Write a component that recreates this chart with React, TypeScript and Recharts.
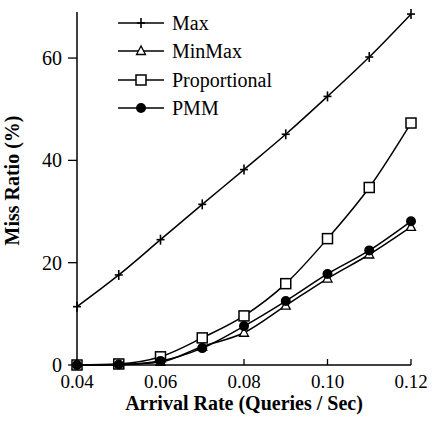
import React from "react";
import { LineChart, Line, XAxis, YAxis } from "recharts";

const rates = [0.04, 0.05, 0.06, 0.07, 0.08, 0.09, 0.1, 0.11, 0.12];
const maxMiss = [11.4, 17.6, 24.5, 31.4, 38.2, 45.1, 52.5, 60.2, 68.6];
const minMaxMiss = [0, 0.1, 0.6, 3.6, 6.3, 11.6, 16.9, 21.6, 27.0];
const proportionalMiss = [0, 0.2, 1.6, 5.3, 9.6, 15.9, 24.7, 34.7, 47.3];
const pmmMiss = [0, 0.1, 0.8, 3.3, 7.6, 12.5, 17.8, 22.4, 28.1];

const xTicks = [0.04, 0.06, 0.08, 0.1, 0.12];
const yTicks = [0, 20, 40, 60];

const FONT =
  "'Liberation Serif', 'Times New Roman', Tinos, 'Nimbus Roman', 'DejaVu Serif', 'Noto Serif', FreeSerif, serif";

type Shape = "plus" | "triangle" | "square" | "circle";

const series: { key: string; name: string; shape: Shape }[] = [
  { key: "max", name: "Max", shape: "plus" },
  { key: "minmax", name: "MinMax", shape: "triangle" },
  { key: "proportional", name: "Proportional", shape: "square" },
  { key: "pmm", name: "PMM", shape: "circle" },
];

const data = rates.map((rate, i) => ({
  rate,
  max: maxMiss[i],
  minmax: minMaxMiss[i],
  proportional: proportionalMiss[i],
  pmm: pmmMiss[i],
}));

const Marker = ({ cx, cy, shape }: { cx: number; cy: number; shape: Shape }) => {
  switch (shape) {
    case "plus":
      return (
        <g stroke="#000" strokeWidth={1.6}>
          <line x1={cx - 4} x2={cx + 4} y1={cy} y2={cy} />
          <line x1={cx} x2={cx} y1={cy - 5} y2={cy + 5} />
        </g>
      );
    case "triangle":
      return (
        <polygon
          points={`${cx},${cy - 5} ${cx - 4.5},${cy + 3.5} ${cx + 4.5},${cy + 3.5}`}
          fill="#fff"
          stroke="#000"
          strokeWidth={1.3}
        />
      );
    case "square":
      return <rect x={cx - 5} y={cy - 5} width={10} height={10} fill="#fff" stroke="#000" strokeWidth={1.5} />;
    default:
      return <circle cx={cx} cy={cy} r={5} fill="#000" />;
  }
};

const makeDot = (shape: Shape) => (props: any) => {
  const { cx, cy, index } = props;
  if (cx == null || cy == null) return <g key={index} />;
  return (
    <g key={index}>
      <Marker cx={cx} cy={cy} shape={shape} />
    </g>
  );
};

// x ticks point up into the plot, labels sit below the axis line
const XTick = (props: any) => {
  const { x, y, payload } = props;
  return (
    <g>
      <line x1={x} x2={x} y1={y} y2={y - 6} stroke="#000" strokeWidth={1.3} />
      <text x={x} y={y + 23} textAnchor="middle" fontFamily={FONT} fontSize={19} fill="#000">
        {Number(payload.value).toFixed(2)}
      </text>
    </g>
  );
};

const LegendBox = () => (
  <div style={{ position: "absolute", left: 116, top: 9, fontFamily: FONT, fontSize: 20 }}>
    {series.map((s) => (
      <div key={s.key} style={{ display: "flex", alignItems: "center", height: 28.3 }}>
        <svg width={52} height={20}>
          <line x1={2} x2={48} y1={10} y2={10} stroke="#000" strokeWidth={1.5} />
          <Marker cx={25} cy={10} shape={s.shape} />
        </svg>
        <span style={{ marginLeft: 4, lineHeight: 1 }}>{s.name}</span>
      </div>
    ))}
  </div>
);

export default function App() {
  return (
    <div style={{ position: "absolute", left: 0, top: 0, width: 433, height: 428, background: "#fff" }}>
      <LineChart width={433} height={428} data={data} margin={{ top: 12, right: 22, left: 0, bottom: 0 }}>
        <XAxis
          dataKey="rate"
          type="number"
          domain={[0.04, 0.12]}
          ticks={xTicks}
          height={63}
          axisLine={{ stroke: "#000", strokeWidth: 1.5 }}
          tickLine={false}
          tickSize={0}
          tickMargin={0}
          tick={<XTick />}
          label={{
            value: "Arrival Rate (Queries / Sec)",
            position: "insideBottom",
            offset: 18,
            style: { fontFamily: FONT, fontSize: 20, fontWeight: "bold", fill: "#000" },
          }}
        />
        <YAxis
          type="number"
          domain={[0, 69]}
          ticks={yTicks}
          width={77}
          axisLine={{ stroke: "#000", strokeWidth: 1.5 }}
          tickLine={{ stroke: "#000", strokeWidth: 1.3 }}
          tickSize={9}
          tickMargin={6}
          tick={{ fontFamily: FONT, fontSize: 20, fill: "#000" }}
          label={{
            value: "Miss Ratio (%)",
            angle: -90,
            position: "insideLeft",
            offset: 12,
            dy: -8,
            style: { textAnchor: "middle", fontFamily: FONT, fontSize: 20, fontWeight: "bold", fill: "#000" },
          }}
        />
        {series.map((s) => (
          <Line
            key={s.key}
            dataKey={s.key}
            name={s.name}
            type="monotone"
            stroke="#000"
            strokeWidth={1.5}
            dot={makeDot(s.shape)}
            activeDot={false}
            isAnimationActive={false}
          />
        ))}
      </LineChart>
      <LegendBox />
    </div>
  );
}
